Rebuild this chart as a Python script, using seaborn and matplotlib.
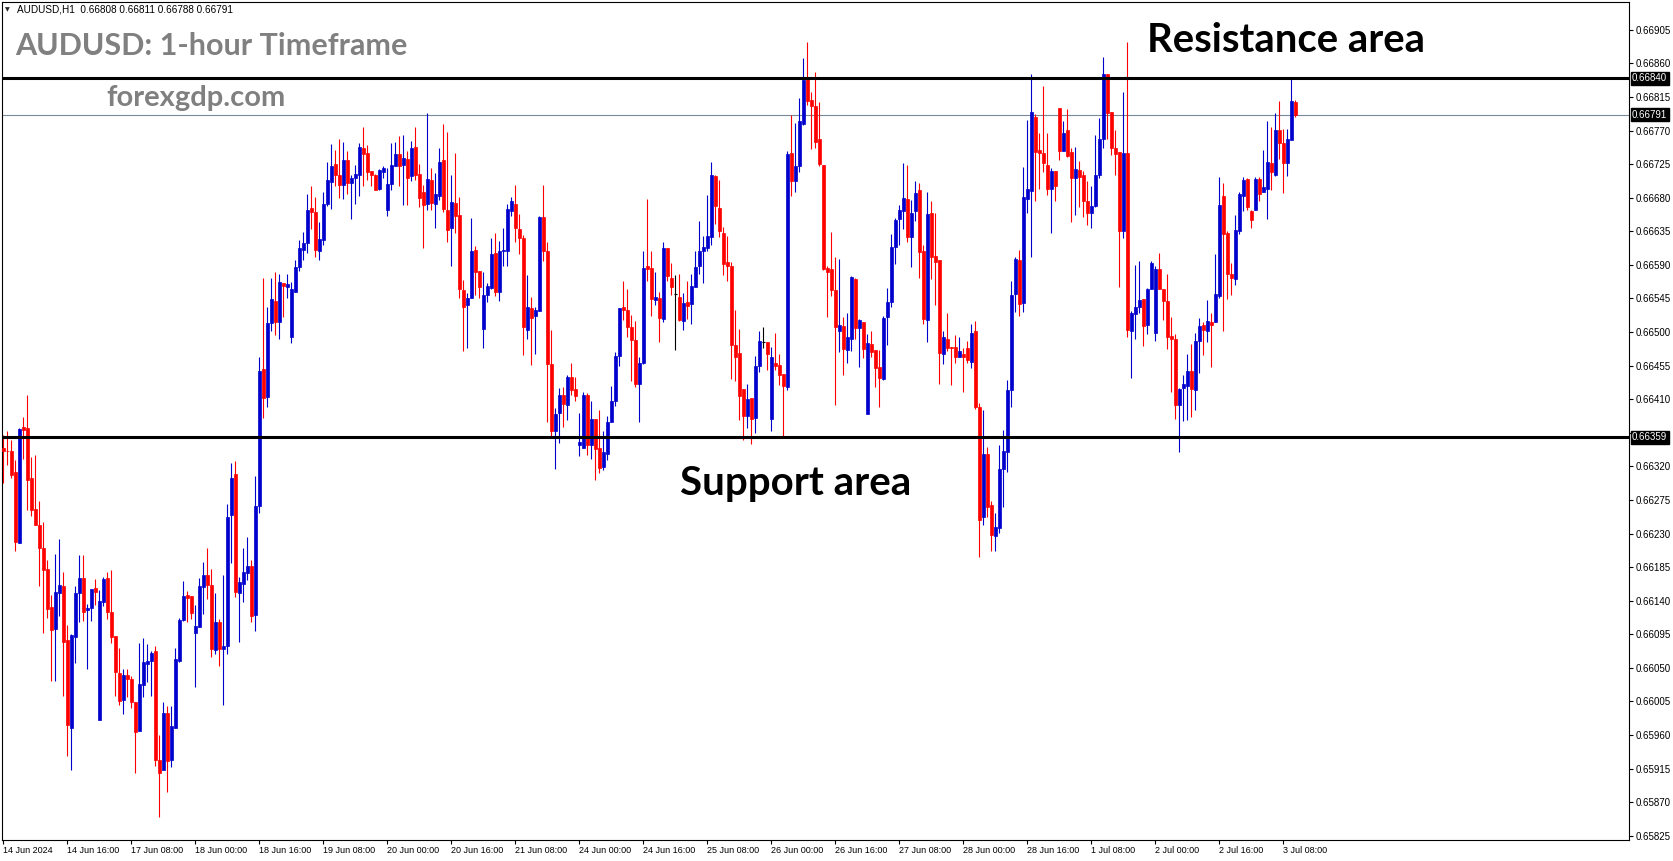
import numpy as np
import pandas as pd
import matplotlib
matplotlib.use("Agg")
import matplotlib.pyplot as plt
import seaborn as sns

# ── DATA: AUDUSD H1 candles ──────────────────────────────────────────────────
opens = [
    0.66345, 0.66341, 0.66341, 0.66313, 0.66218, 0.66373, 0.66372, 0.66305, 0.66263, 0.66241, 0.66211, 0.66183,
    0.66132, 0.66102, 0.66151, 0.66160, 0.66088, 0.65970, 0.66092, 0.66151, 0.66171, 0.66127, 0.66130, 0.66157,
    0.65980, 0.66138, 0.66171, 0.66125, 0.66093, 0.66043, 0.66007, 0.66040, 0.66035, 0.66004, 0.65965, 0.66027,
    0.66055, 0.66059, 0.66072, 0.65926, 0.65913, 0.65989, 0.65926, 0.65970, 0.66059, 0.66114, 0.66147, 0.66146,
    0.66097, 0.66105, 0.66159, 0.66174, 0.66161, 0.66074, 0.66112, 0.66075, 0.66080, 0.66255, 0.66310, 0.66151,
    0.66163, 0.66177, 0.66186, 0.66121, 0.66267, 0.66450, 0.66413, 0.66512, 0.66542, 0.66513, 0.66566, 0.66561,
    0.66493, 0.66554, 0.66587, 0.66610, 0.66619, 0.66666, 0.66661, 0.66609, 0.66623, 0.66672, 0.66701, 0.66725,
    0.66710, 0.66697, 0.66731, 0.66700, 0.66707, 0.66710, 0.66747, 0.66740, 0.66716, 0.66711, 0.66691, 0.66715,
    0.66663, 0.66698, 0.66723, 0.66738, 0.66724, 0.66732, 0.66709, 0.66748, 0.66712, 0.66688, 0.66671, 0.66704,
    0.66672, 0.66682, 0.66730, 0.66664, 0.66640, 0.66673, 0.66657, 0.66556, 0.66536, 0.66546, 0.66610, 0.66582,
    0.66504, 0.66549, 0.66559, 0.66606, 0.66553, 0.66608, 0.66608, 0.66662, 0.66672, 0.66638, 0.66626, 0.66503,
    0.66532, 0.66521, 0.66528, 0.66654, 0.66609, 0.66457, 0.66367, 0.66391, 0.66416, 0.66402, 0.66440, 0.66424,
    0.66349, 0.66345, 0.66416, 0.66349, 0.66383, 0.66345, 0.66319, 0.66336, 0.66379, 0.66408, 0.66468, 0.66534,
    0.66530, 0.66507, 0.66489, 0.66430, 0.66458, 0.66589, 0.66586, 0.66543, 0.66546, 0.66518, 0.66612, 0.66573,
    0.66551, 0.66547, 0.66515, 0.66540, 0.66537, 0.66561, 0.66588, 0.66608, 0.66612, 0.66628, 0.66709, 0.66666,
    0.66633, 0.66594, 0.66589, 0.66483, 0.66472, 0.66424, 0.66388, 0.66412, 0.66385, 0.66455, 0.66486, 0.66486,
    0.66383, 0.66459, 0.66456, 0.66444, 0.66427, 0.66740, 0.66702, 0.66722, 0.66779, 0.66839, 0.66811, 0.66803,
    0.66758, 0.66724, 0.66586, 0.66584, 0.66556, 0.66502, 0.66508, 0.66476, 0.66490, 0.66571, 0.66506, 0.66514,
    0.66390, 0.66484, 0.66476, 0.66453, 0.66437, 0.66520, 0.66540, 0.66614, 0.66651, 0.66662, 0.66678, 0.66627,
    0.66662, 0.66690, 0.66608, 0.66516, 0.66659, 0.66602, 0.66596, 0.66471, 0.66491, 0.66480, 0.66480, 0.66466,
    0.66470, 0.66479, 0.66460, 0.66501, 0.66399, 0.66252, 0.66336, 0.66268, 0.66227, 0.66238, 0.66316, 0.66339,
    0.66422, 0.66551, 0.66596, 0.66539, 0.66678, 0.66689, 0.66788, 0.66744, 0.66740, 0.66724, 0.66691, 0.66716,
    0.66800, 0.66742, 0.66771, 0.66741, 0.66706, 0.66717, 0.66711, 0.66675, 0.66659, 0.66669, 0.66711, 0.66758,
    0.66846, 0.66795, 0.66746, 0.66741, 0.66636, 0.66740, 0.66502, 0.66524, 0.66534, 0.66544, 0.66510, 0.66557,
    0.66499, 0.66585, 0.66558, 0.66542, 0.66495, 0.66490, 0.66402, 0.66425, 0.66428, 0.66448, 0.66422, 0.66488,
    0.66509, 0.66501, 0.66513, 0.66513, 0.66548, 0.66682, 0.66633, 0.66578, 0.66571, 0.66635, 0.66682, 0.66705,
    0.66662, 0.66663, 0.66705, 0.66687, 0.66692, 0.66726, 0.66710, 0.66771, 0.66753, 0.66727, 0.66757, 0.66808,
]
highs = [
    0.66362, 0.66367, 0.66356, 0.66329, 0.66371, 0.66386, 0.66416, 0.66333, 0.66335, 0.66274, 0.66245, 0.66194,
    0.66148, 0.66203, 0.66223, 0.66179, 0.66108, 0.66095, 0.66160, 0.66201, 0.66201, 0.66136, 0.66156, 0.66169,
    0.66155, 0.66172, 0.66179, 0.66181, 0.66093, 0.66077, 0.66048, 0.66048, 0.66039, 0.66004, 0.66084, 0.66090,
    0.66082, 0.66073, 0.66080, 0.65960, 0.66004, 0.65999, 0.65999, 0.66077, 0.66117, 0.66166, 0.66153, 0.66146,
    0.66134, 0.66170, 0.66192, 0.66210, 0.66182, 0.66150, 0.66115, 0.66175, 0.66269, 0.66324, 0.66327, 0.66172,
    0.66210, 0.66226, 0.66195, 0.66307, 0.66466, 0.66573, 0.66533, 0.66573, 0.66580, 0.66578, 0.66566, 0.66578,
    0.66567, 0.66596, 0.66623, 0.66634, 0.66685, 0.66695, 0.66681, 0.66648, 0.66688, 0.66728, 0.66752, 0.66744,
    0.66759, 0.66754, 0.66742, 0.66710, 0.66724, 0.66753, 0.66775, 0.66751, 0.66716, 0.66712, 0.66719, 0.66722,
    0.66720, 0.66753, 0.66755, 0.66763, 0.66764, 0.66742, 0.66756, 0.66775, 0.66725, 0.66697, 0.66793, 0.66720,
    0.66713, 0.66747, 0.66779, 0.66768, 0.66711, 0.66740, 0.66681, 0.66570, 0.66552, 0.66653, 0.66615, 0.66582,
    0.66580, 0.66566, 0.66626, 0.66633, 0.66622, 0.66640, 0.66672, 0.66681, 0.66697, 0.66658, 0.66630, 0.66577,
    0.66547, 0.66534, 0.66656, 0.66697, 0.66621, 0.66503, 0.66398, 0.66425, 0.66427, 0.66442, 0.66459, 0.66440,
    0.66392, 0.66420, 0.66418, 0.66408, 0.66384, 0.66396, 0.66367, 0.66387, 0.66428, 0.66473, 0.66532, 0.66568,
    0.66558, 0.66523, 0.66515, 0.66467, 0.66609, 0.66678, 0.66609, 0.66581, 0.66554, 0.66621, 0.66613, 0.66593,
    0.66576, 0.66578, 0.66552, 0.66568, 0.66578, 0.66609, 0.66649, 0.66629, 0.66684, 0.66728, 0.66711, 0.66704,
    0.66641, 0.66629, 0.66594, 0.66529, 0.66504, 0.66424, 0.66431, 0.66412, 0.66468, 0.66502, 0.66507, 0.66486,
    0.66480, 0.66499, 0.66471, 0.66444, 0.66743, 0.66791, 0.66780, 0.66814, 0.66867, 0.66889, 0.66821, 0.66849,
    0.66808, 0.66724, 0.66588, 0.66634, 0.66600, 0.66598, 0.66520, 0.66525, 0.66575, 0.66573, 0.66518, 0.66514,
    0.66497, 0.66501, 0.66476, 0.66476, 0.66521, 0.66559, 0.66631, 0.66653, 0.66670, 0.66726, 0.66724, 0.66677,
    0.66702, 0.66700, 0.66617, 0.66688, 0.66675, 0.66659, 0.66596, 0.66501, 0.66525, 0.66480, 0.66496, 0.66493,
    0.66478, 0.66488, 0.66511, 0.66515, 0.66405, 0.66395, 0.66346, 0.66274, 0.66257, 0.66349, 0.66369, 0.66436,
    0.66568, 0.66600, 0.66610, 0.66721, 0.66784, 0.66846, 0.66792, 0.66767, 0.66830, 0.66767, 0.66720, 0.66716,
    0.66800, 0.66783, 0.66799, 0.66747, 0.66748, 0.66729, 0.66716, 0.66702, 0.66695, 0.66764, 0.66787, 0.66869,
    0.66846, 0.66795, 0.66771, 0.66741, 0.66821, 0.66889, 0.66528, 0.66590, 0.66595, 0.66544, 0.66559, 0.66595,
    0.66589, 0.66606, 0.66558, 0.66578, 0.66520, 0.66498, 0.66425, 0.66442, 0.66470, 0.66484, 0.66499, 0.66519,
    0.66513, 0.66543, 0.66525, 0.66604, 0.66708, 0.66700, 0.66635, 0.66592, 0.66657, 0.66688, 0.66708, 0.66706,
    0.66663, 0.66708, 0.66708, 0.66744, 0.66783, 0.66775, 0.66793, 0.66810, 0.66772, 0.66772, 0.66839, 0.66811,
]
lows = [
    0.66298, 0.66322, 0.66305, 0.66206, 0.66217, 0.66330, 0.66261, 0.66254, 0.66241, 0.66160, 0.66097, 0.66117,
    0.66032, 0.66033, 0.66119, 0.66013, 0.65932, 0.65913, 0.66057, 0.66112, 0.66113, 0.66049, 0.66113, 0.66134,
    0.65980, 0.66133, 0.66116, 0.66083, 0.66013, 0.66000, 0.65988, 0.66011, 0.65996, 0.65909, 0.65965, 0.66011,
    0.66031, 0.66012, 0.65918, 0.65850, 0.65913, 0.65884, 0.65917, 0.65970, 0.66058, 0.66113, 0.66112, 0.66116,
    0.66025, 0.66105, 0.66122, 0.66142, 0.66065, 0.66068, 0.66052, 0.66000, 0.66068, 0.66190, 0.66145, 0.66085,
    0.66138, 0.66168, 0.66112, 0.66100, 0.66257, 0.66385, 0.66399, 0.66501, 0.66496, 0.66491, 0.66520, 0.66546,
    0.66485, 0.66554, 0.66582, 0.66597, 0.66606, 0.66638, 0.66600, 0.66596, 0.66617, 0.66669, 0.66665, 0.66695,
    0.66679, 0.66678, 0.66685, 0.66651, 0.66671, 0.66682, 0.66695, 0.66704, 0.66695, 0.66690, 0.66690, 0.66707,
    0.66656, 0.66690, 0.66723, 0.66695, 0.66670, 0.66670, 0.66703, 0.66704, 0.66667, 0.66612, 0.66664, 0.66663,
    0.66640, 0.66677, 0.66661, 0.66620, 0.66588, 0.66633, 0.66546, 0.66475, 0.66479, 0.66545, 0.66549, 0.66545,
    0.66479, 0.66540, 0.66557, 0.66548, 0.66542, 0.66588, 0.66589, 0.66656, 0.66621, 0.66605, 0.66469, 0.66490,
    0.66456, 0.66471, 0.66528, 0.66595, 0.66379, 0.66360, 0.66316, 0.66351, 0.66373, 0.66382, 0.66416, 0.66407,
    0.66334, 0.66345, 0.66335, 0.66330, 0.66302, 0.66311, 0.66315, 0.66329, 0.66379, 0.66401, 0.66455, 0.66516,
    0.66494, 0.66435, 0.66426, 0.66379, 0.66457, 0.66568, 0.66522, 0.66536, 0.66486, 0.66514, 0.66568, 0.66549,
    0.66476, 0.66515, 0.66503, 0.66518, 0.66511, 0.66561, 0.66578, 0.66566, 0.66608, 0.66616, 0.66645, 0.66628,
    0.66576, 0.66568, 0.66437, 0.66434, 0.66382, 0.66356, 0.66372, 0.66350, 0.66365, 0.66446, 0.66478, 0.66449,
    0.66368, 0.66449, 0.66429, 0.66359, 0.66423, 0.66682, 0.66687, 0.66715, 0.66778, 0.66804, 0.66745, 0.66746,
    0.66722, 0.66583, 0.66520, 0.66548, 0.66402, 0.66473, 0.66443, 0.66459, 0.66475, 0.66490, 0.66453, 0.66465,
    0.66390, 0.66466, 0.66427, 0.66399, 0.66436, 0.66483, 0.66533, 0.66591, 0.66616, 0.66638, 0.66620, 0.66587,
    0.66649, 0.66573, 0.66511, 0.66486, 0.66571, 0.66536, 0.66431, 0.66457, 0.66474, 0.66429, 0.66458, 0.66466,
    0.66420, 0.66458, 0.66452, 0.66397, 0.66198, 0.66242, 0.66252, 0.66206, 0.66207, 0.66231, 0.66265, 0.66313,
    0.66399, 0.66527, 0.66521, 0.66527, 0.66659, 0.66600, 0.66675, 0.66692, 0.66715, 0.66683, 0.66633, 0.66676,
    0.66731, 0.66742, 0.66735, 0.66648, 0.66657, 0.66668, 0.66654, 0.66644, 0.66639, 0.66667, 0.66707, 0.66746,
    0.66758, 0.66737, 0.66711, 0.66561, 0.66626, 0.66494, 0.66439, 0.66490, 0.66526, 0.66481, 0.66498, 0.66557,
    0.66488, 0.66558, 0.66516, 0.66477, 0.66420, 0.66384, 0.66339, 0.66381, 0.66382, 0.66386, 0.66395, 0.66445,
    0.66469, 0.66486, 0.66453, 0.66513, 0.66545, 0.66502, 0.66544, 0.66550, 0.66563, 0.66632, 0.66662, 0.66664,
    0.66640, 0.66663, 0.66675, 0.66687, 0.66652, 0.66690, 0.66709, 0.66732, 0.66686, 0.66709, 0.66757, 0.66788,
]
closes = [
    0.66340, 0.66340, 0.66309, 0.66219, 0.66370, 0.66369, 0.66302, 0.66261, 0.66242, 0.66210, 0.66181, 0.66129,
    0.66101, 0.66152, 0.66161, 0.66085, 0.65974, 0.66094, 0.66150, 0.66171, 0.66125, 0.66130, 0.66156, 0.66152,
    0.66140, 0.66169, 0.66125, 0.66092, 0.66044, 0.66006, 0.66040, 0.66035, 0.66004, 0.65964, 0.66029, 0.66058,
    0.66059, 0.66070, 0.65926, 0.65909, 0.65989, 0.65925, 0.65972, 0.66062, 0.66114, 0.66146, 0.66144, 0.66123,
    0.66106, 0.66160, 0.66175, 0.66161, 0.66075, 0.66112, 0.66075, 0.66080, 0.66252, 0.66305, 0.66152, 0.66165,
    0.66179, 0.66186, 0.66119, 0.66267, 0.66448, 0.66412, 0.66512, 0.66544, 0.66514, 0.66567, 0.66562, 0.66565,
    0.66558, 0.66587, 0.66613, 0.66619, 0.66664, 0.66661, 0.66610, 0.66625, 0.66671, 0.66704, 0.66723, 0.66711,
    0.66697, 0.66730, 0.66700, 0.66707, 0.66712, 0.66748, 0.66738, 0.66715, 0.66711, 0.66690, 0.66717, 0.66720,
    0.66698, 0.66724, 0.66738, 0.66723, 0.66733, 0.66707, 0.66747, 0.66711, 0.66679, 0.66670, 0.66705, 0.66673,
    0.66685, 0.66728, 0.66665, 0.66637, 0.66674, 0.66656, 0.66557, 0.66534, 0.66545, 0.66609, 0.66581, 0.66561,
    0.66549, 0.66562, 0.66605, 0.66553, 0.66608, 0.66610, 0.66665, 0.66675, 0.66640, 0.66626, 0.66507, 0.66534,
    0.66519, 0.66530, 0.66654, 0.66609, 0.66457, 0.66368, 0.66390, 0.66416, 0.66403, 0.66440, 0.66423, 0.66414,
    0.66352, 0.66416, 0.66348, 0.66383, 0.66343, 0.66318, 0.66339, 0.66379, 0.66408, 0.66468, 0.66532, 0.66529,
    0.66507, 0.66489, 0.66430, 0.66459, 0.66586, 0.66585, 0.66544, 0.66547, 0.66519, 0.66613, 0.66575, 0.66561,
    0.66551, 0.66516, 0.66539, 0.66535, 0.66562, 0.66587, 0.66608, 0.66614, 0.66629, 0.66711, 0.66669, 0.66636,
    0.66591, 0.66589, 0.66483, 0.66467, 0.66414, 0.66387, 0.66410, 0.66384, 0.66455, 0.66488, 0.66486, 0.66471,
    0.66467, 0.66454, 0.66443, 0.66428, 0.66739, 0.66703, 0.66723, 0.66783, 0.66838, 0.66809, 0.66803, 0.66755,
    0.66725, 0.66585, 0.66581, 0.66556, 0.66507, 0.66509, 0.66477, 0.66494, 0.66574, 0.66506, 0.66516, 0.66477,
    0.66485, 0.66473, 0.66452, 0.66438, 0.66519, 0.66540, 0.66614, 0.66650, 0.66663, 0.66680, 0.66628, 0.66659,
    0.66686, 0.66607, 0.66517, 0.66658, 0.66601, 0.66594, 0.66472, 0.66493, 0.66478, 0.66478, 0.66466, 0.66475,
    0.66467, 0.66462, 0.66499, 0.66399, 0.66248, 0.66336, 0.66266, 0.66228, 0.66239, 0.66316, 0.66341, 0.66422,
    0.66550, 0.66598, 0.66537, 0.66681, 0.66692, 0.66795, 0.66741, 0.66740, 0.66726, 0.66691, 0.66716, 0.66695,
    0.66743, 0.66767, 0.66736, 0.66706, 0.66718, 0.66708, 0.66675, 0.66659, 0.66669, 0.66711, 0.66759, 0.66846,
    0.66794, 0.66746, 0.66739, 0.66636, 0.66740, 0.66503, 0.66526, 0.66534, 0.66543, 0.66508, 0.66557, 0.66593,
    0.66585, 0.66558, 0.66542, 0.66493, 0.66490, 0.66402, 0.66424, 0.66430, 0.66448, 0.66424, 0.66488, 0.66508,
    0.66503, 0.66515, 0.66509, 0.66551, 0.66670, 0.66632, 0.66578, 0.66572, 0.66637, 0.66685, 0.66704, 0.66667,
    0.66650, 0.66705, 0.66685, 0.66694, 0.66728, 0.66714, 0.66771, 0.66753, 0.66726, 0.66759, 0.66809, 0.66791,
]

trading_days = [
    "2024-06-14", "2024-06-17", "2024-06-18", "2024-06-19", "2024-06-20", "2024-06-21",
    "2024-06-24", "2024-06-25", "2024-06-26", "2024-06-27", "2024-06-28",
    "2024-07-01", "2024-07-02", "2024-07-03",
]
label_times = [
    "2024-06-14 00:00", "2024-06-14 16:00", "2024-06-17 08:00", "2024-06-18 00:00",
    "2024-06-18 16:00", "2024-06-19 08:00", "2024-06-20 00:00", "2024-06-20 16:00",
    "2024-06-21 08:00", "2024-06-24 00:00", "2024-06-24 16:00", "2024-06-25 08:00",
    "2024-06-26 00:00", "2024-06-26 16:00", "2024-06-27 08:00", "2024-06-28 00:00",
    "2024-06-28 16:00", "2024-07-01 08:00", "2024-07-02 00:00", "2024-07-02 16:00",
    "2024-07-03 08:00",
]
price_ticks = [
    0.65825, 0.65870, 0.65915, 0.65960, 0.66005, 0.66050, 0.66095, 0.66140, 0.66185,
    0.66230, 0.66275, 0.66320, 0.66365, 0.66410, 0.66455, 0.66500, 0.66545, 0.66590,
    0.66635, 0.66680, 0.66725, 0.66770, 0.66815, 0.66860, 0.66905,
]
resistance = 0.66840
support = 0.66359
last_price = 0.66791

# ── STYLE ─────────────────────────────────────────────────────────────────────
sns.set_theme(style="white")
plt.rcParams["font.family"] = ["Liberation Sans", "DejaVu Sans"]
BLUE = "#0000CD"
RED = "#FF0000"
GRAY_TXT = "#808080"
W, H = 1673, 861

# ── BUILD FRAME ───────────────────────────────────────────────────────────────
hours = [pd.Timestamp(d) + pd.Timedelta(hours=h) for d in trading_days for h in range(24)]
df = pd.DataFrame({"open": opens, "high": highs, "low": lows, "close": closes})
df["time"] = hours[:len(df)]
df["pos"] = np.arange(len(df))
df["kind"] = np.where(df["close"] > df["open"], "up",
                      np.where(df["close"] < df["open"], "down", "flat"))
colors = {"up": BLUE, "down": RED, "flat": "black"}

fig = plt.figure(figsize=(W / 100, H / 100), dpi=100)
ax = fig.add_axes([2 / W, 21 / H, 1627 / W, 838 / H])
ax.set_facecolor("white")

for kind, sub in df.groupby("kind"):
    c = colors[kind]
    ax.vlines(sub["pos"], sub["low"], sub["high"], color=c, lw=0.8, zorder=2)
    if kind == "flat":
        ax.hlines(sub["close"], sub["pos"] - 0.38, sub["pos"] + 0.38, color=c, lw=0.8, zorder=3)
    else:
        lo = np.minimum(sub["open"], sub["close"])
        hi = np.maximum(sub["open"], sub["close"])
        ax.bar(sub["pos"], hi - lo, bottom=lo, width=0.64, color=c,
               edgecolor=c, linewidth=0.5, zorder=3)

ax.axhline(last_price, color="#778899", lw=0.8, zorder=1)
ax.axhline(resistance, color="black", lw=2.2, zorder=4)
ax.axhline(support, color="black", lw=2.2, zorder=4)

ax.set_xlim(-0.325, 406.425)
ax.set_ylim(0.658194, 0.669422)

# y axis on the right, MT4 style
ax.yaxis.tick_right()
ax.set_yticks(price_ticks)
ax.set_yticklabels(["" if abs(t - 0.66365) < 1e-7 else f"{t:.5f}" for t in price_ticks])
ax.tick_params(axis="y", right=True, left=False, direction="out", length=3,
               width=0.8, pad=2, labelsize=7, colors="black")

# x axis: date labels every 16 bars
times_idx = pd.Index(df["time"])
lab_ts = pd.to_datetime(label_times)
lab_pos = times_idx.get_indexer(lab_ts)
lab_txt = [f"{t.day} {t:%b %Y}" if k == 0 else f"{t.day} {t:%b %H:%M}"
           for k, t in enumerate(lab_ts)]
ax.set_xticks(lab_pos)
ax.set_xticklabels(lab_txt, ha="left")
ax.tick_params(axis="x", bottom=True, direction="out", length=3, width=0.8,
               pad=1.5, labelsize=6.5, colors="black")

for s in ax.spines.values():
    s.set_color("black")
    s.set_linewidth(0.8)

# price boxes on the axis
for p in [resistance, last_price, support]:
    ax.annotate(f"{p:.5f}", xy=(1, p), xycoords=ax.get_yaxis_transform(),
                xytext=(2.2, 0), textcoords="offset points", ha="left", va="center",
                fontsize=7, color="white", annotation_clip=False, zorder=10,
                bbox=dict(boxstyle="square,pad=0.15", fc="black", ec="black"))

# header + annotations
fig.text(5 / W, 1 - 10 / H, "\u25BC", fontsize=4.5, family="DejaVu Sans", va="center")
fig.text(17 / W, 1 - 10 / H, "AUDUSD,H1  0.66808 0.66811 0.66788 0.66791",
         fontsize=7.2, va="center", color="black")
fig.text(15 / W, 1 - 46 / H, "AUDUSD: 1-hour Timeframe", fontsize=22,
         fontweight="bold", family="Lato", color=GRAY_TXT, va="center")
fig.text(106 / W, 1 - 98 / H, "forexgdp.com", fontsize=21,
         fontweight="bold", family="Lato", color=GRAY_TXT, va="center")
fig.text(1147 / W, 1 - 40 / H, "Resistance area", fontsize=28.8,
         fontweight="bold", family="Lato", color="black", va="center")
fig.text(680 / W, 1 - 483 / H, "Support area", fontsize=29,
         fontweight="bold", family="Lato", color="black", va="center")

fig.savefig("out.png", dpi=100)
